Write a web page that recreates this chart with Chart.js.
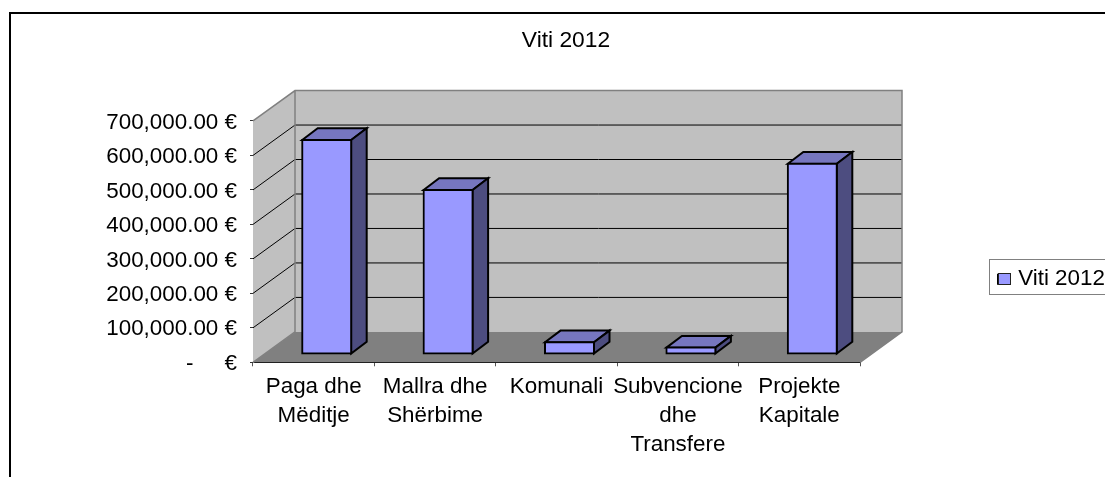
<!DOCTYPE html>
<html>
<head>
<meta charset="utf-8">
<title>Viti 2012</title>
<script src="https://cdn.jsdelivr.net/npm/chart.js@4"></script>
<style>
  html, body { margin: 0; padding: 0; background: #fff; overflow: hidden; }
  canvas { display: block; }
</style>
</head>
<body>
<canvas id="myChart" width="1105" height="477"></canvas>
<script>
const seriesName = 'Viti 2012';
const categories = [
  ['Paga dhe', 'Mëditje'],
  ['Mallra dhe', 'Shërbime'],
  'Komunali',
  ['Subvencione', 'dhe', 'Transfere'],
  ['Projekte', 'Kapitale']
];
const values = [620800, 475800, 34000, 18500, 552000];
const yTickLabels = [
  '-     €', '100,000.00 €', '200,000.00 €', '300,000.00 €',
  '400,000.00 €', '500,000.00 €', '600,000.00 €', '700,000.00 €'
];

// depth of the fake 3d box and of the bars
const wallDx = 42, wallDy = 30.4;
const barShiftX = 13, barShiftY = 8.3;
const barDx = 15.5, barDy = 11.7;

const FONT = '"Liberation Sans", Arial, sans-serif';

function poly(ctx, pts, fill, stroke, width) {
  ctx.beginPath();
  ctx.moveTo(pts[0][0], pts[0][1]);
  for (let i = 1; i < pts.length; i++) ctx.lineTo(pts[i][0], pts[i][1]);
  ctx.closePath();
  if (fill) { ctx.fillStyle = fill; ctx.fill(); }
  if (stroke) { ctx.strokeStyle = stroke; ctx.lineWidth = width; ctx.stroke(); }
}

const box3d = {
  id: 'box3d',
  afterLayout(chart) {
    // title sits over the whole frame, legend floats right of the box
    chart.titleBlock.left += 136;
    chart.titleBlock.right += 136;
    const lg = chart.legend;
    const w = lg.right - lg.left;
    lg.left = 990; lg.right = 990 + w;
    lg.top = 260; lg.bottom = 300;
  },
  beforeDraw(chart) {
    const ctx = chart.ctx;
    ctx.save();
    // outer frame, cut off by the picture on the right and bottom
    ctx.strokeStyle = '#000';
    ctx.lineWidth = 2;
    ctx.beginPath();
    ctx.moveTo(10, 477);
    ctx.lineTo(10, 13);
    ctx.lineTo(1105, 13);
    ctx.stroke();
    // legend box
    ctx.strokeStyle = '#808080';
    ctx.lineWidth = 1;
    ctx.strokeRect(989.5, 259.5, 130, 35);
    ctx.restore();
  },
  beforeDatasetsDraw(chart) {
    const ctx = chart.ctx;
    const x = chart.scales.x, y = chart.scales.y;
    const l = x.left, r = x.right, t = y.top, b = y.bottom;
    ctx.save();
    poly(ctx, [[l, b], [l + wallDx, b - wallDy], [r + wallDx, b - wallDy], [r, b]], '#808080');
    poly(ctx, [[l, t], [l + wallDx, t - wallDy], [l + wallDx, b - wallDy], [l, b]], '#c0c0c0');
    poly(ctx, [[l + wallDx, t - wallDy], [r + wallDx, t - wallDy], [r + wallDx, b - wallDy], [l + wallDx, b - wallDy]], '#c0c0c0');

    ctx.strokeStyle = '#000';
    ctx.lineWidth = 1;
    y.ticks.forEach(tick => {
      if (tick.value === 0 || tick.value === y.max) return;
      const py = y.getPixelForValue(tick.value);
      ctx.beginPath();
      ctx.moveTo(l, py);
      ctx.lineTo(l + wallDx, py - wallDy);
      ctx.lineTo(r + wallDx, py - wallDy);
      ctx.stroke();
    });

    ctx.strokeStyle = '#808080';
    ctx.lineWidth = 1.5;
    ctx.beginPath();
    ctx.moveTo(l, t);
    ctx.lineTo(l + wallDx, t - wallDy);
    ctx.lineTo(r + wallDx, t - wallDy);
    ctx.lineTo(r + wallDx, b - wallDy);
    ctx.lineTo(r, b);
    ctx.moveTo(l + wallDx, t - wallDy);
    ctx.lineTo(l + wallDx, b - wallDy);
    ctx.lineTo(l, b);
    ctx.stroke();

    // top and side faces of the bars
    ctx.lineJoin = 'miter';
    chart.getDatasetMeta(0).data.forEach(bar => {
      const x0 = bar.x - bar.width / 2 + barShiftX;
      const x1 = bar.x + bar.width / 2 + barShiftX;
      const y0 = bar.y - barShiftY;
      const y1 = bar.base - barShiftY;
      poly(ctx, [[x0, y0], [x0 + barDx, y0 - barDy], [x1 + barDx, y0 - barDy], [x1, y0]], '#7676bf', '#000', 2);
      poly(ctx, [[x1, y0], [x1 + barDx, y0 - barDy], [x1 + barDx, y1 - barDy], [x1, y1]], '#4d4d80', '#000', 2);
    });
    ctx.restore();

    // front faces are the normal chart.js bars, moved into the box
    ctx.save();
    ctx.translate(barShiftX, -barShiftY);
  },
  afterDatasetsDraw(chart) {
    chart.ctx.restore();
  },
  afterDraw(chart) {
    // legend text starts closer to the swatch than chart.js allows, so the
    // library's box is kept narrow and widened here
    const ctx = chart.ctx;
    ctx.save();
    ctx.fillStyle = '#9999ff';
    ctx.strokeStyle = '#222';
    ctx.lineWidth = 1;
    ctx.fillRect(998, 273, 13, 12);
    ctx.strokeRect(998.5, 273.5, 12, 11);
    ctx.restore();
  }
};

new Chart(document.getElementById('myChart'), {
  type: 'bar',
  data: {
    labels: categories,
    datasets: [{
      label: seriesName,
      data: values,
      backgroundColor: '#9999ff',
      borderColor: '#000',
      borderWidth: 2,
      borderSkipped: false,
      inflateAmount: 1,
      barPercentage: 0.4036,
      categoryPercentage: 1,
      clip: false
    }]
  },
  options: {
    responsive: false,
    animation: false,
    layout: { padding: { left: 0, right: 245, top: 0, bottom: 0 } },
    plugins: {
      tooltip: { enabled: false },
      title: {
        display: true,
        text: seriesName,
        color: '#000',
        font: { family: FONT, size: 22.8, weight: 'normal', lineHeight: 1.2 },
        padding: { top: 27, bottom: 66.6 }
      },
      legend: {
        position: 'chartArea',
        align: 'start',
        labels: {
          color: '#000',
          font: { family: FONT, size: 22.4 },
          boxWidth: 9,
          boxHeight: 9,
          padding: 8
        }
      }
    },
    scales: {
      x: {
        afterFit(scale) { scale.height = 477 - 362.3; },
        grid: { drawOnChartArea: false, tickLength: 4, color: '#555' },
        border: { color: '#000' },
        ticks: {
          autoSkip: false,
          maxRotation: 0,
          minRotation: 0,
          padding: 6,
          color: '#000',
          font: { family: FONT, size: 22.4, lineHeight: 1.3 }
        }
      },
      y: {
        min: 0,
        max: 700000,
        afterFit(scale) { scale.width = 253; },
        grid: { drawOnChartArea: false, tickLength: 3, color: '#333' },
        border: { color: '#555' },
        ticks: {
          stepSize: 100000,
          padding: 13,
          labelOffset: 1.5,
          color: '#000',
          font: { family: FONT, size: 22.4 },
          callback: (v, i) => yTickLabels[i]
        }
      }
    }
  },
  plugins: [box3d]
});
</script>
</body>
</html>
